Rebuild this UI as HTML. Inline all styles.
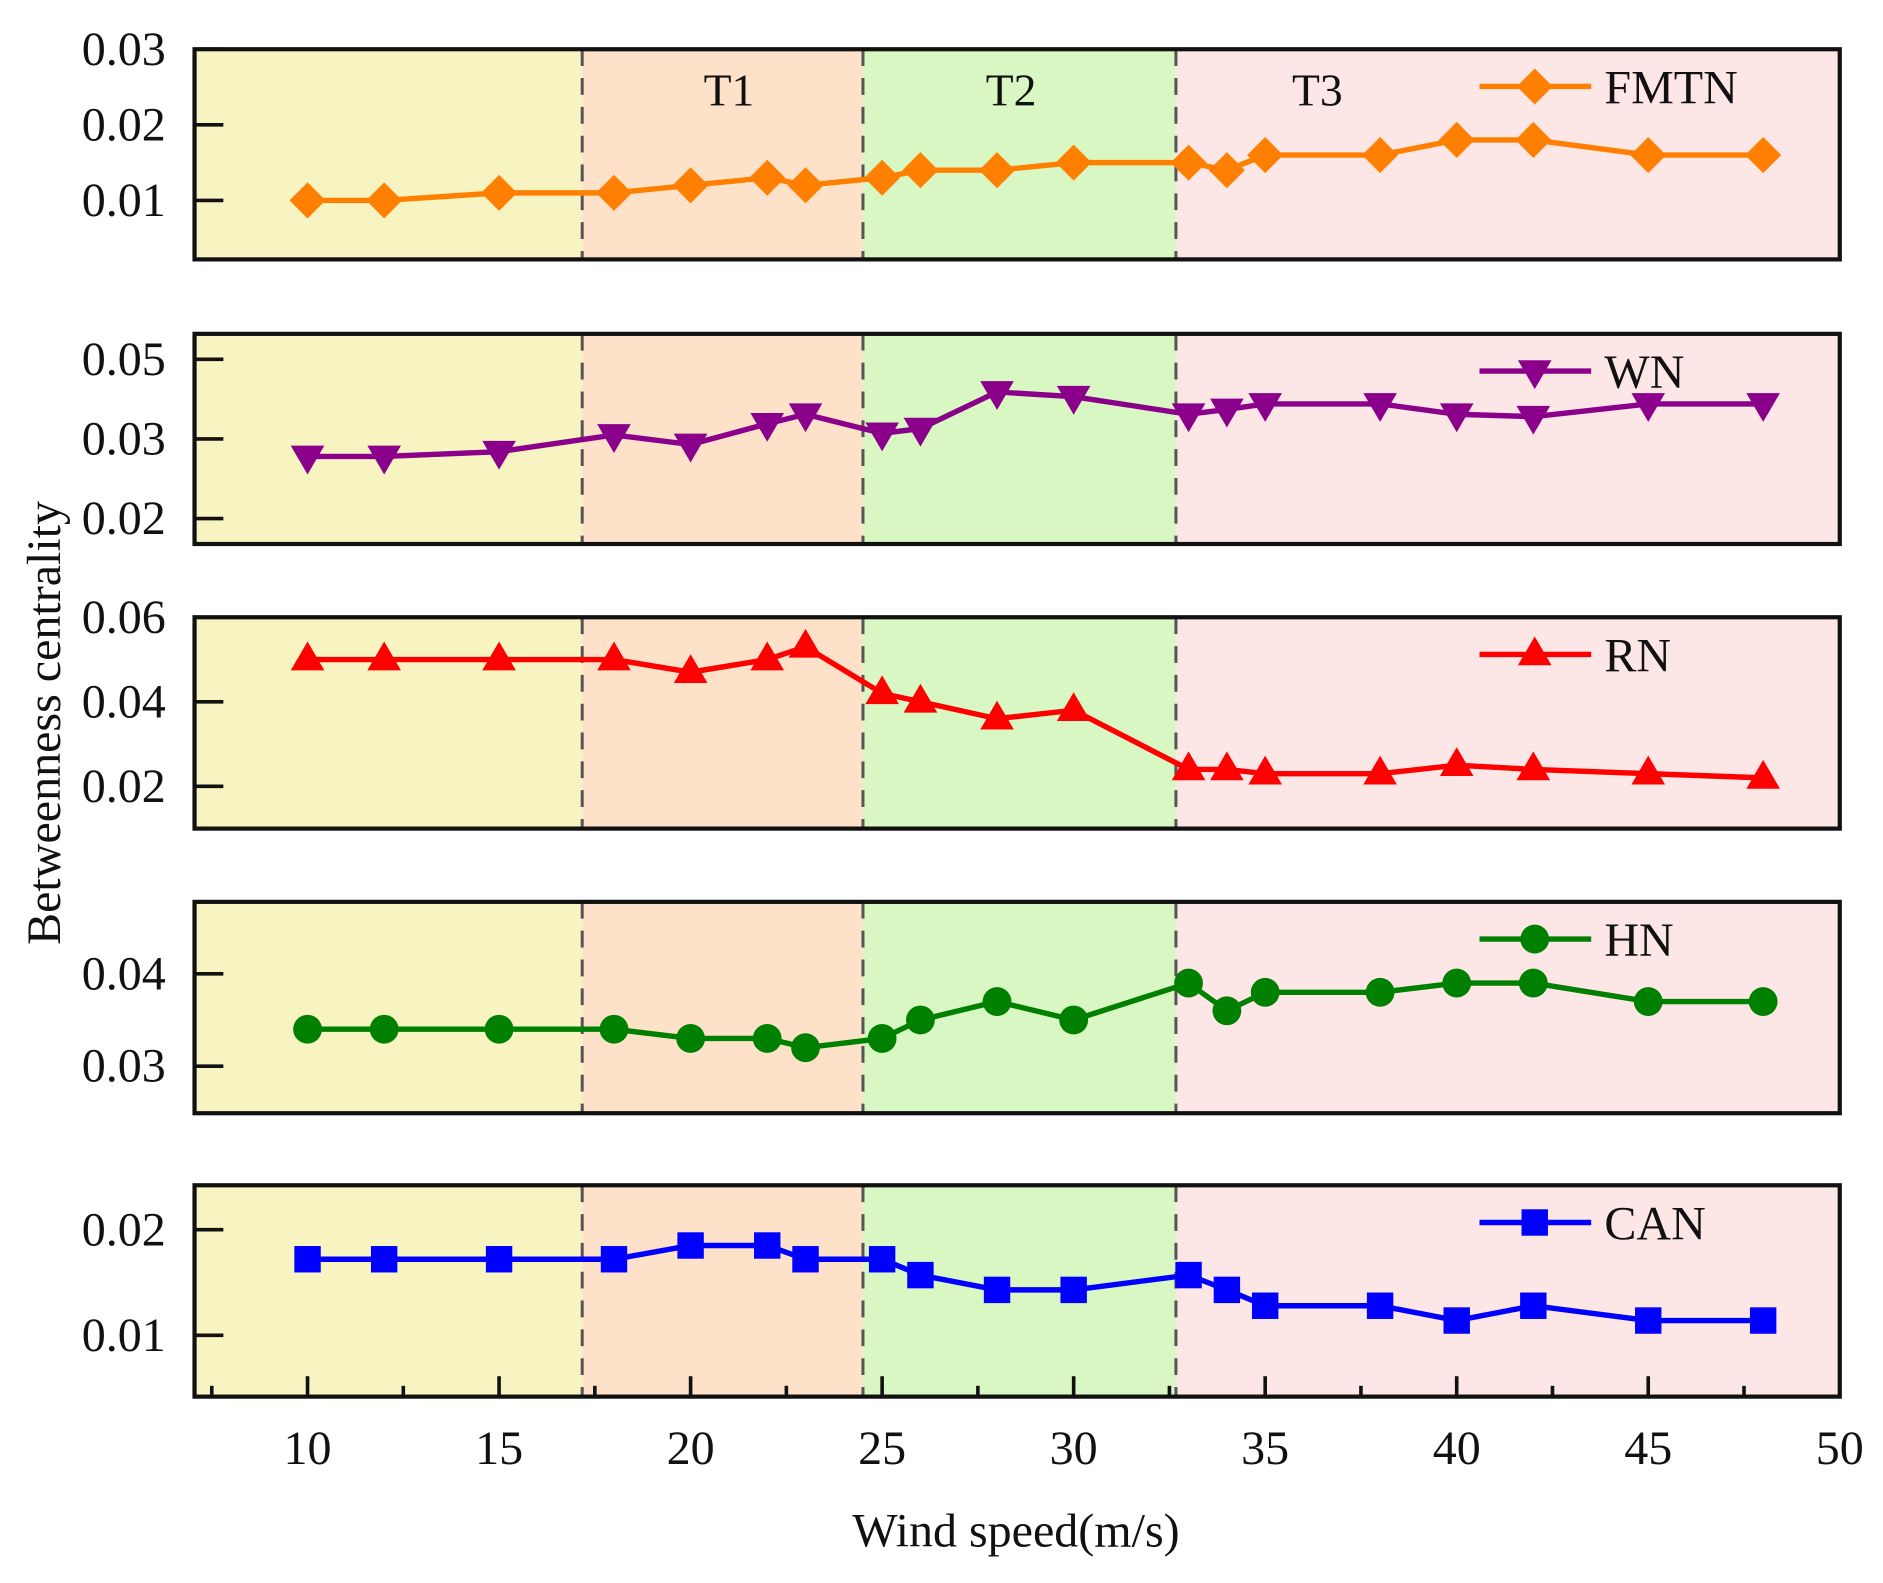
<!DOCTYPE html>
<html><head><meta charset="utf-8"><style>
html,body{margin:0;padding:0;background:#fff;}
svg{display:block;font-family:"Liberation Serif",serif;}
</style></head><body>
<svg id="chart" width="1883" height="1583" viewBox="0 0 1568 1318.2" preserveAspectRatio="none" xmlns="http://www.w3.org/2000/svg"></svg>
<script>
const windSpeed=[10,12,15,18,20,22,23,25,26,28,30,33,34,35,38,40,42,45,48];
const fmtn=[0.010,0.010,0.011,0.011,0.012,0.013,0.012,0.013,0.014,0.014,0.015,0.015,0.014,0.016,0.016,0.018,0.018,0.016,0.016];
const wn=[0.0278,0.0278,0.0284,0.0305,0.0293,0.0319,0.0331,0.0307,0.0313,0.0359,0.0353,0.0331,0.0337,0.0344,0.0344,0.0331,0.0328,0.0344,0.0344];
const rn=[0.050,0.050,0.050,0.050,0.047,0.050,0.053,0.042,0.040,0.036,0.038,0.024,0.024,0.023,0.023,0.025,0.024,0.023,0.022];
const hn=[0.034,0.034,0.034,0.034,0.033,0.033,0.032,0.033,0.035,0.037,0.035,0.039,0.036,0.038,0.038,0.039,0.039,0.037,0.037];
const can=[0.0172,0.0172,0.0172,0.0172,0.0185,0.0185,0.0172,0.0172,0.0157,0.0143,0.0143,0.0157,0.0143,0.0128,0.0128,0.0114,0.0128,0.0114,0.0114];
const xTicks=[10,15,20,25,30,35,40,45,50];
const phaseBounds=[7.05,17.17,24.5,32.67,50];
const phaseLabels=["","T1","T2","T3"];
const ticks1=[0.01,0.02,0.03], labels1=["0.01","0.02","0.03"];
const ticks2=[0.02,0.03,0.04], labels2=["0.02","0.03","0.05"];
const ticks3=[0.02,0.04,0.06], labels3=["0.02","0.04","0.06"];
const ticks4=[0.03,0.04], labels4=["0.03","0.04"];
const ticks5=[0.01,0.02], labels5=["0.01","0.02"];

const NS="http://www.w3.org/2000/svg";
const svg=document.getElementById('chart');
function mk(tag,attrs,parent){const e=document.createElementNS(NS,tag);for(const k in attrs)e.setAttribute(k,attrs[k]);(parent||svg).appendChild(e);return e;}
const L=162,R=1532,xmin=7.05,xmax=50;
const X=v=>L+(v-xmin)/(xmax-xmin)*(R-L);
const phaseColors=["#f8f4c2","#fde2c9","#d9f7c3","#fde6e6"];
const panels=[
 {name:"fmtn",data:fmtn,top:41,bot:216,ymin:0.0022,ymax:0.03,ticks:ticks1,labels:labels1,color:"#ff8000",marker:"diamond",label:"FMTN"},
 {name:"wn",data:wn,top:278,bot:453,ymin:0.0168,ymax:0.0432,ticks:ticks2,labels:labels2,color:"#8b008b",marker:"down",label:"WN"},
 {name:"rn",data:rn,top:514,bot:690,ymin:0.010,ymax:0.060,ticks:ticks3,labels:labels3,color:"#ff0000",marker:"up",label:"RN"},
 {name:"hn",data:hn,top:751,bot:927,ymin:0.0249,ymax:0.0478,ticks:ticks4,labels:labels4,color:"#008000",marker:"circle",label:"HN"},
 {name:"can",data:can,top:987,bot:1163,ymin:0.0042,ymax:0.0242,ticks:ticks5,labels:labels5,color:"#0000ff",marker:"square",label:"CAN"}
];
function marker(type,x,y,color,g){
 let e;
 if(type==="diamond")e=mk('polygon',{points:`${x},${y-15} ${x+15},${y} ${x},${y+15} ${x-15},${y}`,fill:color},g);
 else if(type==="down")e=mk('polygon',{points:`${x-14},${y-9} ${x+14},${y-9} ${x},${y+15}`,fill:color},g);
 else if(type==="up")e=mk('polygon',{points:`${x-14},${y+9} ${x+14},${y+9} ${x},${y-15}`,fill:color},g);
 else if(type==="circle")e=mk('circle',{cx:x,cy:y,r:12,fill:color},g);
 else e=mk('rect',{x:x-11,y:y-11,width:22,height:22,fill:color},g);
 
 
}
panels.forEach((p,pi)=>{
 const Y=v=>p.bot-(v-p.ymin)/(p.ymax-p.ymin)*(p.bot-p.top);
 const g=mk('g',{});
 
 
 for(let i=0;i<4;i++){
  const r=mk('rect',{x:X(phaseBounds[i]),y:p.top,width:X(phaseBounds[i+1])-X(phaseBounds[i]),height:p.bot-p.top,fill:phaseColors[i]},g);
  
  
 }
 for(let i=1;i<4;i++){
  const d=mk('line',{x1:X(phaseBounds[i]),x2:X(phaseBounds[i]),y1:p.top,y2:p.bot,stroke:"#555",'stroke-width':2.5,'stroke-dasharray':"14,10"},g);
  
  
 }
 if(pi===0){
  const tx=[0,607,842,1097];
  for(let i=1;i<4;i++){
   const t=mk('text',{x:tx[i],y:88,'font-size':38,'text-anchor':'middle',fill:'#111'},g);
   t.textContent=phaseLabels[i];
   
   
  }
 }
 p.ticks.forEach((tv,ti)=>{
  mk('line',{x1:L,x2:L+24,y1:Y(tv),y2:Y(tv),stroke:'#111','stroke-width':3},g);
  const t=mk('text',{x:138,y:Y(tv)+13,'font-size':40,'text-anchor':'end',fill:'#111'},g);
  t.textContent=p.labels[ti];
  
  
 });
 const pts=windSpeed.map((w,i)=>X(w)+','+Y(p.data[i])).join(' ');
 const line=mk('polyline',{points:pts,fill:'none',stroke:p.color,'stroke-width':4.5},g);
 
 
 windSpeed.forEach((w,i)=>marker(p.marker,X(w),Y(p.data[i]),p.color,g));
 const ly=p.top+31;
 const lg=mk('g',{},g);
 
 
 mk('line',{x1:1232,x2:1325,y1:ly,y2:ly,stroke:p.color,'stroke-width':4.5},lg);
 marker(p.marker,1278,ly,p.color,lg);
 const lt=mk('text',{x:1336,y:ly+14,'font-size':40,fill:'#111'},lg);
 lt.textContent=p.label;
 const fr=mk('rect',{x:L,y:p.top,width:R-L,height:p.bot-p.top,fill:'none',stroke:'#111','stroke-width':3.5},g);
 
 
});
const bot=1163;
for(let v=7.5;v<50;v+=2.5){
 const major=Number.isInteger(v/5);
 mk('line',{x1:X(v),x2:X(v),y1:bot,y2:bot-(major?17:9),stroke:'#111','stroke-width':3});
}
xTicks.forEach(v=>{
 const t=mk('text',{x:X(v),y:1219,'font-size':40,'text-anchor':'middle',fill:'#111'});
 t.textContent=String(v);
 
 
});
const xt=mk('text',{x:846,y:1288,'font-size':40,'text-anchor':'middle',fill:'#111'});
xt.textContent="Wind speed(m/s)";


const yt=mk('text',{x:0,y:0,'font-size':40,'text-anchor':'middle',fill:'#111',transform:'translate(50,602) rotate(-90)'});
yt.textContent="Betweenness centrality";


</script>
</body></html>
